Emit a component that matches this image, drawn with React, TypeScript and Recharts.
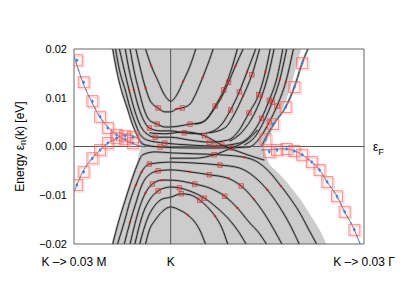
import React from 'react';
import {
  ComposedChart,
  Line,
  Area,
  Scatter,
  XAxis,
  YAxis,
  ReferenceLine,
  ReferenceArea,
} from 'recharts';

// x: -1 = K -> 0.03 M, 0 = K, 2 = K -> 0.03 Gamma ; y in meV (axis shows eV)
const xTicks = [-1, 0, 2];
const xTickLabels: Record<number, string> = { [-1]: 'K \u2013> 0.03 M', 0: 'K', 2: 'K \u2013> 0.03 \u0393' };
const yTicks = [-20, -10, 0, 10, 20];

// shaded bulk continuum (upper part: low edge .. top, lower part: bottom .. high edge)
const upperShadeX = [-0.6, -0.54, -0.47, -0.41, -0.35, -0.3, 0.95, 1.06, 1.15, 1.23, 1.29, 1.35];
const upperShadeLow = [20, 14.7, 9.5, 5.8, 2.8, 0, 0, 3.8, 7.5, 11.6, 15.7, 20];
const lowerShadeX = [-0.6, -0.54, -0.47, -0.41, -0.35, -0.3, 0.95, 1.0, 1.1, 1.2, 1.28, 1.38, 1.46, 1.54, 1.61];
const lowerShadeHigh = [-20, -15.5, -11.0, -6.9, -3.4, 0, 0, -2.8, -5.2, -7.3, -9.3, -12.0, -14.5, -17.1, -20];

// bulk bands [k, E(meV)]
const bandU1 = [[-0.26, 20], [-0.2, 16.5], [-0.13, 13.4], [-0.07, 10.8], [0, 9.3], [0.07, 10.8], [0.13, 13.4], [0.2, 16.5], [0.26, 20]];
const bandU2 = [[-0.36, 20], [-0.31, 15.7], [-0.26, 12.0], [-0.21, 9.3], [-0.13, 7.9], [-0.06, 7.1], [0, 7.1], [0.06, 7.7], [0.12, 7.9], [0.2, 8.7], [0.26, 10.8], [0.33, 14.1], [0.4, 17.7], [0.44, 20]];
const bandU3 = [[-0.42, 20], [-0.38, 15.7], [-0.33, 11.6], [-0.28, 7.9], [-0.22, 5.4], [-0.14, 4.6], [-0.06, 4.0], [0, 4.0], [0.09, 4.2], [0.2, 4.6], [0.3, 4.8], [0.38, 5.8], [0.46, 8.3], [0.55, 11.6], [0.62, 15.3], [0.69, 20]];
const bandU4 = [[-0.47, 20], [-0.43, 15.7], [-0.38, 11.6], [-0.33, 7.9], [-0.28, 5.4], [-0.22, 3.8], [-0.11, 3.2], [0, 3.2], [0.14, 2.8], [0.3, 2.6], [0.42, 3.0], [0.53, 4.6], [0.62, 7.5], [0.71, 11.2], [0.79, 15.3], [0.88, 20]];
const bandU5 = [[-0.53, 20], [-0.48, 15.7], [-0.43, 11.6], [-0.38, 7.9], [-0.33, 5.0], [-0.27, 3.0], [-0.16, 1.9], [0, 1.9], [0.2, 1.3], [0.4, 0.9], [0.59, 1.3], [0.71, 3.4], [0.81, 6.9], [0.91, 10.6], [0.98, 15.3], [1.03, 20]];
const bandU6 = [[-0.57, 20], [-0.53, 15.7], [-0.47, 11.6], [-0.42, 7.9], [-0.37, 5.0], [-0.32, 2.6], [-0.24, 1.3], [-0.06, 0.7], [0.2, 0.3], [0.45, 0.1], [0.71, 0.7], [0.84, 2.6], [0.94, 5.8], [1.02, 9.5], [1.1, 14.1], [1.16, 20]];
const bandU7 = [[-0.6, 20], [-0.56, 15.7], [-0.51, 11.6], [-0.45, 7.9], [-0.4, 4.8], [-0.35, 2.4], [-0.29, 0.5], [-0.11, -0.1], [0.2, -0.3], [0.51, -0.3], [0.81, -0.1], [0.92, 1.7], [1.02, 5.0], [1.1, 8.3], [1.19, 13.2], [1.27, 20]];
const bandU3b = [[0.25, 4.6], [0.35, 5.2], [0.43, 7.1], [0.52, 9.9], [0.6, 13.2], [0.67, 16.5], [0.75, 20]];
const bandU4b = [[0.4, 2.8], [0.56, 3.8], [0.66, 6.7], [0.75, 10.4], [0.84, 14.7], [0.92, 20]];
const bandU5b = [[0.61, 1.1], [0.74, 3.0], [0.86, 6.5], [0.94, 10.2], [1.01, 14.7], [1.07, 20]];
const bandU6b = [[0.76, 0.3], [0.88, 2.2], [0.97, 5.4], [1.05, 9.1], [1.13, 13.8], [1.2, 20]];
const bandX1 = [[-0.22, 2.8], [-0.06, 2.6], [0.14, 3.0], [0.35, 2.2], [0.53, 0.3], [0.71, -1.1], [0.87, -2.2], [0.97, -2.8]];
const bandX2 = [[-0.01, -2.4], [0.25, -2.4], [0.45, -1.7], [0.63, -0.3], [0.79, 1.3], [0.9, 3.4]];
const bandL1 = [[-0.26, -20], [-0.22, -17.1], [-0.16, -15.1], [-0.09, -13.4], [0, -12.4], [0.09, -13.0], [0.18, -14.1], [0.25, -15.5], [0.3, -17.1], [0.36, -20]];
const bandL2 = [[-0.32, -20], [-0.28, -17.1], [-0.23, -14.3], [-0.16, -12.0], [-0.09, -10.8], [0, -10.4], [0.11, -9.7], [0.2, -9.9], [0.3, -11.0], [0.38, -12.4], [0.46, -14.3], [0.53, -16.7], [0.59, -20]];
const bandL3 = [[-0.37, -20], [-0.33, -16.7], [-0.28, -13.4], [-0.22, -11.0], [-0.13, -9.1], [-0.06, -8.5], [0, -8.3], [0.09, -8.5], [0.22, -9.3], [0.35, -10.6], [0.48, -12.6], [0.61, -15.1], [0.71, -17.7], [0.78, -20]];
const bandL4 = [[-0.42, -20], [-0.37, -15.9], [-0.32, -12.4], [-0.26, -9.5], [-0.19, -7.7], [-0.09, -6.9], [0, -6.9], [0.11, -7.1], [0.25, -7.7], [0.4, -8.5], [0.56, -10.2], [0.69, -12.6], [0.81, -15.5], [0.92, -17.9], [0.99, -20]];
const bandL5 = [[-0.48, -20], [-0.42, -15.5], [-0.36, -11.6], [-0.31, -8.5], [-0.25, -6.3], [-0.13, -5.0], [0, -4.8], [0.2, -5.2], [0.4, -5.8], [0.59, -6.5], [0.73, -8.1], [0.86, -10.8], [0.97, -13.8], [1.07, -17.1], [1.15, -20]];
const bandL6 = [[-0.55, -20], [-0.48, -15.5], [-0.42, -11.2], [-0.36, -7.9], [-0.3, -5.2], [-0.22, -3.6], [0, -3.2], [0.25, -3.4], [0.51, -3.8], [0.71, -4.4], [0.87, -6.3], [1.0, -8.9], [1.12, -12.2], [1.23, -15.9], [1.33, -20]];
const bandL7 = [[-0.6, -20], [-0.54, -15.5], [-0.47, -11.0], [-0.41, -7.3], [-0.35, -4.0], [-0.29, -1.7], [-0.16, -1.1], [0, -1.3], [0.25, -1.5], [0.51, -1.7], [0.76, -2.2], [0.9, -3.2], [1.02, -5.2], [1.14, -8.1], [1.25, -11.0], [1.35, -14.1], [1.43, -17.1], [1.51, -20]];
const bandR1 = [[0.94, 0], [1.0, 2.4], [1.08, 5.0], [1.19, 8.1], [1.28, 12.2], [1.36, 17.1], [1.42, 20]];

// edge-state branches outside the continuum
const edgeA = [[-1.0, 18.6], [-0.91, 13.2], [-0.82, 9.3], [-0.74, 6.3], [-0.65, 4.0], [-0.56, 2.4], [-0.45, 1.1], [-0.35, 0.3], [-0.27, -0.1]];
const edgeB = [[-1.0, -9.3], [-0.97, -7.9], [-0.91, -5.2], [-0.81, -2.4], [-0.73, -0.7], [-0.65, 0.7], [-0.56, 1.7], [-0.47, 2.4], [-0.39, 2.2], [-0.32, 1.3], [-0.26, 0.1]];
const edgeR2 = [[0.94, -0.7], [1.02, -0.7], [1.1, -0.5], [1.2, -0.5], [1.28, -0.9], [1.36, -1.7], [1.46, -3.2], [1.54, -4.8], [1.62, -7.3], [1.72, -10.2], [1.8, -13.4], [1.9, -17.1], [1.96, -20]];

// projected weights: big squares (edge), small squares and dots (bulk)
const bigSquares = [
  [-0.97, 17.7], [-0.9, 13.2], [-0.81, 9.3], [-0.73, 6.1], [-0.65, 3.8], [-0.56, 2.4], [-0.47, 1.5], [-0.39, 0.7],
  [-0.97, -7.9], [-0.9, -5.2], [-0.81, -2.4], [-0.73, -0.7], [-0.65, 0.7], [-0.56, 1.7], [-0.47, 2.2], [-0.39, 1.9],
  [1.36, 17.1], [1.28, 12.2], [1.19, 8.1], [1.06, 4.6], [0.98, 1.5],
  [1.02, -1.1], [1.1, -0.7], [1.2, -0.5], [1.28, -0.9], [1.36, -1.7], [1.46, -3.2], [1.54, -4.8], [1.62, -7.3], [1.72, -10.2], [1.8, -13.4], [1.9, -17.1],
];
const smallSquares = [
  [0.46, 8.3], [0.55, 11.6], [-0.14, 4.6], [0.2, 4.6], [0.62, 7.5], [0.71, 11.2], [-0.22, 3.8], [0.14, 2.8],
  [0.81, 6.9], [0.91, 10.6], [-0.16, 1.9], [0.4, 0.9], [0.94, 5.8], [1.02, 9.5], [-0.06, 0.7], [0.45, 0.1],
  [1.02, 5.0], [1.1, 8.3], [-0.11, -0.1], [-0.13, 7.9], [0.12, 7.9],
  [-0.13, -9.1], [0.09, -8.5], [0.35, -10.6], [-0.19, -7.7], [0.25, -7.7], [0.56, -10.2],
  [-0.13, -5.0], [0.4, -5.8], [0.73, -8.1], [-0.22, -3.6], [0.51, -3.8], [0.11, -9.7], [0.3, -11.0],
  [0.35, 2.2], [0.53, 0.3], [0.45, -1.7], [0.63, -0.3], [0.6, 13.2], [0.84, 14.7], [1.05, 9.1],
];
const redDots = [
  [0.13, 13.4], [-0.2, 16.5], [0.33, 14.1], [0.67, 16.5], [0.79, 15.3], [0.98, 15.3], [1.13, 13.8], [1.19, 13.2],
  [0.75, 10.4], [0.94, 10.2], [0.52, 9.9], [0.06, 7.7], [-0.26, 12.0], [-0.38, 11.6], [-0.43, 11.6],
  [-0.3, -5.2], [-0.36, -7.9], [-0.26, -9.5], [-0.42, -15.5], [0.18, -14.1], [0.46, -14.3], [0.69, -12.6],
  [0.86, -10.8], [1.0, -8.9], [1.14, -8.1], [0.76, -2.2], [0.2, -5.2], [-0.09, -6.9], [0.6, -6.5],
];

const bulkBands = [bandU1, bandU2, bandU3, bandU4, bandU5, bandU6, bandU7, bandU3b, bandU4b, bandU5b, bandU6b, bandX1, bandX2, bandL1, bandL2, bandL3, bandL4, bandL5, bandL6, bandL7, bandR1];
const edgeBands = [edgeA, edgeB, edgeR2, bandR1];

const toPts = (arr: number[][]) => arr.map(([x, y]) => ({ x, y }));
const upperShade = upperShadeX.map((x, i) => ({ x, range: [upperShadeLow[i], 20] }));
const lowerShade = lowerShadeX.map((x, i) => ({ x, range: [-20, lowerShadeHigh[i]] }));

const BigSquare = (p: any) => (
  <g>
    <rect x={p.cx - 5.5} y={p.cy - 5.5} width={11} height={11} fill="#ff9999" fillOpacity={0.12} stroke="#ff5555" strokeOpacity={0.65} strokeWidth={1} />
    <rect x={p.cx - 4} y={p.cy - 4} width={11} height={11} fill="none" stroke="#ff7777" strokeOpacity={0.35} strokeWidth={1} />
    <polygon points={`${p.cx},${p.cy - 2} ${p.cx + 1.5},${p.cy} ${p.cx},${p.cy + 2} ${p.cx - 1.5},${p.cy}`} fill="#3d7fe0" />
  </g>
);
const SmallSquare = (p: any) => (
  <rect x={p.cx - 2.2} y={p.cy - 2.2} width={4.4} height={4.4} fill="#e03030" fillOpacity={0.15} stroke="#e23030" strokeWidth={0.7} />
);
const RedDot = (p: any) => <rect x={p.cx - 1} y={p.cy - 1} width={2} height={2} fill="#e02020" />;

const YLabel = (props: any) => {
  const vb = props.viewBox || { x: 0, y: 0, width: 0, height: 0 };
  const cx = vb.x + 20;
  const cy = vb.y + vb.height / 2;
  return (
    <text x={cx} y={cy} transform={`rotate(-90 ${cx} ${cy})`} textAnchor="middle" dominantBaseline="central" fontSize={12} fill="#000">
      Energy ε<tspan dy={3} fontSize={9}>n</tspan>
      <tspan dy={-3}>(k) [eV]</tspan>
    </text>
  );
};

const FermiLabel = (props: any) => {
  const vb = props.viewBox || { x: 0, y: 0, width: 0 };
  const x = vb.x + vb.width + 9;
  const y = vb.y + 4;
  return (
    <text x={x} y={y} fontSize={12} fill="#000">
      ε<tspan dy={4} fontSize={9}>F</tspan>
    </text>
  );
};

const fmtY = (v: number) => {
  const s = (Math.abs(v) / 1000).toFixed(2);
  return v < 0 ? `\u2212${s}` : s;
};

export default function App() {
  return (
    <div style={{ position: 'fixed', left: 0, top: 0, background: '#fff', fontFamily: '"Liberation Sans", Arial, sans-serif' }}>
      <ComposedChart width={415} height={294} margin={{ top: 49, right: 51, left: 0, bottom: 0 }}>
        <XAxis
          type="number"
          dataKey="x"
          domain={[-1, 2]}
          ticks={xTicks}
          tickFormatter={(v: number) => xTickLabels[v] ?? ''}
          axisLine={false}
          tickLine={false}
          tickSize={0}
          tickMargin={13}
          height={50}
          tick={{ fill: '#000', fontSize: 12 }}
          allowDataOverflow
        />
        <YAxis
          type="number"
          domain={[-20, 20]}
          ticks={yTicks}
          tickFormatter={fmtY}
          axisLine={false}
          tickLine={false}
          tickSize={0}
          tickMargin={7}
          width={74}
          tick={{ fill: '#000', fontSize: 11 }}
          label={{ content: YLabel }}
          allowDataOverflow
        />
        <Area data={upperShade} dataKey="range" type="monotone" stroke="none" fill="#cccccc" fillOpacity={1} isAnimationActive={false} />
        <Area data={lowerShade} dataKey="range" type="monotone" stroke="none" fill="#cccccc" fillOpacity={1} isAnimationActive={false} />
        <ReferenceLine x={0} stroke="#555" strokeWidth={1} />
        <ReferenceLine y={0} stroke="#555" strokeWidth={1} label={{ content: FermiLabel }} />
        {bulkBands.map((b, i) => (
          <Line key={`h${i}`} data={toPts(b)} dataKey="y" type="monotone" stroke="#888" strokeOpacity={0.6} strokeWidth={2.4} dot={false} isAnimationActive={false} />
        ))}
        {bulkBands.map((b, i) => (
          <Line key={`b${i}`} data={toPts(b)} dataKey="y" type="monotone" stroke="#1a1a1a" strokeWidth={0.9} dot={false} isAnimationActive={false} />
        ))}
        {edgeBands.map((b, i) => (
          <Line key={`e${i}`} data={toPts(b)} dataKey="y" type="monotone" stroke="#555" strokeWidth={0.8} dot={false} isAnimationActive={false} />
        ))}
        {edgeBands.map((b, i) => (
          <Line key={`d${i}`} data={toPts(b)} dataKey="y" type="monotone" stroke="#4a86e0" strokeWidth={1.2} strokeDasharray="2 5" dot={false} isAnimationActive={false} />
        ))}
        <Scatter data={toPts(redDots)} dataKey="y" shape={RedDot} isAnimationActive={false} />
        <Scatter data={toPts(smallSquares)} dataKey="y" shape={SmallSquare} isAnimationActive={false} />
        <Scatter data={toPts(bigSquares)} dataKey="y" shape={BigSquare} isAnimationActive={false} />
        <ReferenceArea x1={-1} x2={2} y1={-20} y2={20} fill="none" stroke="#666" strokeWidth={1} ifOverflow="visible" />
      </ComposedChart>
    </div>
  );
}
